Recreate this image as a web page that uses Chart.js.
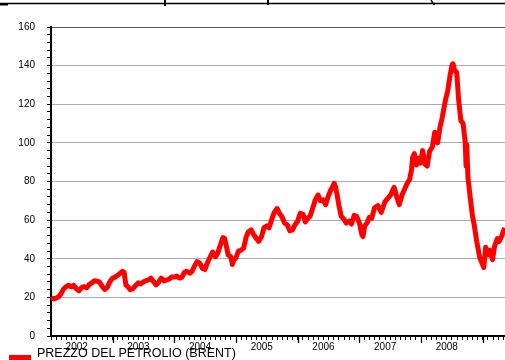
<!DOCTYPE html>
<html>
<head>
<meta charset="utf-8">
<script src="https://cdn.jsdelivr.net/npm/chart.js@4/dist/chart.umd.min.js"></script>
<style>
  html, body { margin: 0; padding: 0; background: #fff; overflow: hidden; }
  #wrap { position: relative; width: 505px; height: 360px; }
  canvas { display: block; }
  #legend { position: absolute; left: 0; top: 0; width: 505px; height: 360px; pointer-events: none; }
  #legend .swatch { position: absolute; left: 9px; top: 355px; width: 22px; height: 8px; background: #ff0000; }
  #legend .label { position: absolute; left: 37px; top: 346px; font: 12.5px "Liberation Sans", Arial, sans-serif; color: #000; white-space: nowrap; line-height: 14px; }
</style>
</head>
<body>
<div id="wrap">
  <canvas id="chart" width="505" height="360"></canvas>
  <div id="legend"><div class="swatch"></div><div class="label">PREZZO DEL PETROLIO (BRENT)</div></div>
</div>
<script>
// Brent crude, USD per barrel, sampled roughly twice a month
const dates = [
  '2002-01-01','2002-01-18','2002-02-01','2002-02-15','2002-03-01','2002-03-15','2002-04-01','2002-04-15',
  '2002-05-01','2002-05-15','2002-06-01','2002-06-15','2002-07-01','2002-07-15','2002-08-01','2002-08-15',
  '2002-09-01','2002-09-15','2002-10-01','2002-10-15','2002-11-01','2002-11-15','2002-12-01','2002-12-15',
  '2003-01-01','2003-01-15','2003-02-01','2003-02-15','2003-03-01','2003-03-10','2003-03-20','2003-04-01',
  '2003-04-15','2003-05-01','2003-05-15','2003-06-01','2003-06-15','2003-07-01','2003-07-15','2003-08-01',
  '2003-08-15','2003-09-01','2003-09-15','2003-10-01','2003-10-15','2003-11-01','2003-11-15','2003-12-01',
  '2003-12-15',
  '2004-01-01','2004-01-15','2004-02-01','2004-02-15','2004-03-01','2004-03-15','2004-04-01','2004-04-15',
  '2004-05-01','2004-05-15','2004-06-01','2004-06-15','2004-07-01','2004-07-15','2004-08-01','2004-08-15',
  '2004-09-01','2004-09-15','2004-10-01','2004-10-15','2004-10-25','2004-11-01','2004-11-15','2004-12-01',
  '2004-12-10','2004-12-20',
  '2005-01-01','2005-01-15','2005-02-01','2005-02-15','2005-03-01','2005-03-15','2005-04-01','2005-04-15',
  '2005-05-01','2005-05-15','2005-06-01','2005-06-15','2005-07-01','2005-07-15','2005-08-01','2005-08-15',
  '2005-09-01','2005-09-15','2005-10-01','2005-10-15','2005-11-01','2005-11-15','2005-12-01','2005-12-15',
  '2006-01-01','2006-01-15','2006-02-01','2006-02-15','2006-03-01','2006-03-15','2006-04-01','2006-04-15',
  '2006-05-01','2006-05-15','2006-06-01','2006-06-15','2006-07-01','2006-07-15','2006-08-05','2006-08-12',
  '2006-08-22','2006-09-01','2006-09-15','2006-10-01','2006-10-15','2006-11-01','2006-11-15','2006-12-01',
  '2006-12-15',
  '2007-01-01','2007-01-15','2007-01-22','2007-02-01','2007-02-15','2007-03-01','2007-03-15','2007-04-01',
  '2007-04-20','2007-05-10','2007-06-01','2007-06-15','2007-07-05','2007-07-25','2007-08-10','2007-08-25',
  '2007-09-10','2007-09-25','2007-10-10','2007-10-25','2007-11-05','2007-11-12','2007-11-22','2007-12-05',
  '2007-12-18','2007-12-28',
  '2008-01-10','2008-01-24','2008-02-06','2008-02-20','2008-03-08','2008-03-22','2008-04-08','2008-04-22',
  '2008-05-05','2008-05-24','2008-06-07','2008-06-21','2008-07-03','2008-07-08','2008-07-18','2008-07-30',
  '2008-08-11','2008-08-24','2008-09-06','2008-09-18','2008-09-24','2008-09-28','2008-10-05','2008-10-18',
  '2008-11-01','2008-11-10','2008-11-26','2008-12-14',
  '2009-01-07','2009-01-18','2009-01-28','2009-02-10','2009-02-28','2009-03-12','2009-03-28','2009-04-08',
  '2009-04-22','2009-05-10'
];
const brent = [
  19.8, 19.2, 19.6, 20.3, 21.8, 24.2, 25.6, 26.3,
  25.4, 26.2, 24.4, 23.4, 25.1, 25.6, 25.0, 26.6,
  27.6, 28.6, 28.4, 27.9, 25.6, 24.1, 25.2, 28.1,
  30.0, 30.5, 31.5, 32.5, 33.5, 33.0, 26.5, 25.5,
  24.0, 24.5, 26.0, 27.5, 27.0, 28.0, 28.5, 29.0,
  30.0, 28.0, 26.5, 28.0, 30.0, 28.5, 29.0, 29.5,
  30.5,
  30.5, 31.0, 30.0, 30.5, 33.0, 33.5, 32.5, 33.5,
  36.5, 38.5, 37.5, 35.0, 34.5, 38.0, 41.0, 43.5,
  41.0, 43.0, 47.5, 51.0, 50.5, 48.0, 42.0, 41.0,
  37.0, 39.5,
  40.5, 44.0, 44.5, 45.5, 51.0, 54.0, 55.0, 52.5,
  50.5, 49.0, 51.5, 56.0, 57.0, 56.0, 60.5, 64.0,
  66.0, 63.5, 61.5, 58.5, 57.5, 54.5, 55.0, 57.5,
  59.5, 63.5, 63.0, 59.0, 61.0, 62.0, 66.5, 70.5,
  73.0, 70.0, 70.5, 68.0, 72.5, 75.5, 79.0, 77.5,
  73.0, 68.0, 62.0, 60.5, 58.5, 59.5, 58.0, 62.5,
  62.0,
  58.5, 52.5, 51.5, 57.0, 58.5, 61.5, 61.0, 66.5,
  67.5, 64.0, 69.5, 71.0, 73.0, 77.0, 72.0, 68.0,
  73.0, 76.0, 79.0, 81.0, 86.0, 92.5, 94.5, 88.5,
  92.0, 89.5,
  96.0, 89.0, 88.0, 95.5, 98.0, 105.5, 100.0, 108.0,
  113.0, 122.0, 127.0, 135.0, 140.5, 141.0, 137.5, 136.5,
  122.0, 111.5, 110.0, 101.0, 88.0, 99.0, 82.0, 72.0,
  62.0, 58.0, 49.0, 40.5,
  35.5, 46.0, 42.0, 44.5, 39.5, 46.5, 50.5, 49.0,
  51.5, 56.0
];
const yearLabels = ['2002', '2003', '2004', '2005', '2006', '2007', '2008'];
const seriesName = 'PREZZO DEL PETROLIO (BRENT)';

// date string -> fractional year for the linear time axis
function toYear(s) {
  const [y, m, d] = s.split('-').map(Number);
  const start = Date.UTC(y, 0, 1), end = Date.UTC(y + 1, 0, 1);
  return y + (Date.UTC(y, m - 1, d) - start) / (end - start);
}
const points = dates.map((d, i) => ({ x: toYear(d), y: brent[i] }));

const X_MIN = 2002, X_MAX = 2009.36;
const FONT = '"Liberation Sans", Arial, sans-serif';

// Longer tick marks at each year boundary plus the rule along the top edge
const decorations = {
  id: 'decorations',
  afterDraw(chart) {
    const { ctx } = chart;
    const xs = chart.scales.x;
    ctx.save();
    ctx.strokeStyle = '#000';
    ctx.lineWidth = 1.3;
    for (let yr = X_MIN + 1; yr <= X_MAX; yr++) {
      const px = Math.round(xs.getPixelForValue(yr)) + 0.5;
      ctx.beginPath();
      ctx.moveTo(px, xs.top);
      ctx.lineTo(px, xs.top + 7);
      ctx.stroke();
    }
    // top rule with the ends of the heading glyphs above it
    ctx.lineWidth = 1.5;
    ctx.beginPath();
    ctx.moveTo(0, 3.5);
    ctx.lineTo(chart.width, 3.5);
    ctx.stroke();
    ctx.fillStyle = '#000';
    ctx.fillRect(0, 3, 8, 2.5);
    ctx.fillRect(164, 0, 2, 6);
    ctx.fillRect(267, 0, 2, 5);
    ctx.lineWidth = 1.6;
    ctx.beginPath();
    ctx.moveTo(431, 0);
    ctx.quadraticCurveTo(432.5, 3, 434.5, 5);
    ctx.stroke();
    ctx.restore();
  }
};

new Chart(document.getElementById('chart'), {
  type: 'line',
  data: {
    datasets: [{
      label: seriesName,
      data: points,
      borderColor: '#ff0000',
      backgroundColor: '#ff0000',
      borderWidth: 5,
      pointRadius: 0,
      tension: 0,
      borderJoinStyle: 'round',
      borderCapStyle: 'butt'
    }]
  },
  options: {
    responsive: false,
    animation: false,
    devicePixelRatio: 1,
    layout: { padding: { top: 27, left: 0, right: 0, bottom: 0 } },
    plugins: { legend: { display: false }, tooltip: { enabled: false }, title: { display: false } },
    scales: {
      x: {
        type: 'linear',
        min: X_MIN,
        max: X_MAX,
        afterBuildTicks(scale) {
          const ticks = [];
          for (let m = 0; X_MIN + m / 12 <= X_MAX + 1e-9; m++) ticks.push({ value: X_MIN + m / 12 });
          scale.ticks = ticks;
        },
        afterFit(scale) { scale.height = 24; },
        ticks: {
          autoSkip: false,
          maxRotation: 0,
          minRotation: 0,
          padding: 1,
          color: '#000',
          font: { family: FONT, size: 10 },
          callback(value, index) {
            const yr = Math.floor(value + 1e-6) - X_MIN;
            return index % 12 === 5 && yr < yearLabels.length ? yearLabels[yr] : '';
          }
        },
        grid: { drawOnChartArea: false, drawTicks: true, tickLength: 4, tickColor: '#000', tickWidth: 1 },
        border: { display: true, color: '#000', width: 2 }
      },
      y: {
        min: 0,
        max: 160,
        afterBuildTicks(scale) {
          const ticks = [];
          for (let v = 0; v <= 160; v += 4) ticks.push({ value: v });
          scale.ticks = ticks;
        },
        afterFit(scale) { scale.width = 51; },
        ticks: {
          autoSkip: false,
          padding: 12,
          color: '#000',
          font: { family: FONT, size: 10 },
          callback(value) { return value % 20 === 0 ? String(value) : ''; }
        },
        grid: {
          drawTicks: true,
          tickLength: 4,
          tickColor: '#000',
          color(ctx) {
            const v = ctx.tick ? ctx.tick.value : 0;
            if (v % 20 !== 0 || v === 0) return 'rgba(0,0,0,0)';
            return v === 160 ? '#555' : '#ababab';
          },
          lineWidth: 1
        },
        border: { display: true, color: '#000', width: 2 }
      }
    }
  },
  plugins: [decorations]
});
</script>
</body>
</html>
